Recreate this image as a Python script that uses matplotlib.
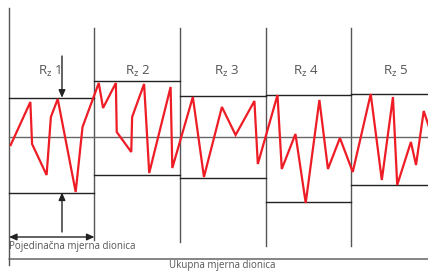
import numpy as np
import matplotlib.pyplot as plt

plt.rcParams['font.family'] = ['Open Sans', 'DejaVu Sans']

# x in units of one single measuring length, y = profile height (arbitrary units)
profile_x = [0.02, 0.25, 0.27, 0.44, 0.49, 0.57, 0.78, 0.86,
             1.05, 1.10, 1.25, 1.26, 1.43, 1.44, 1.58, 1.64, 1.89, 1.91,
             2.15, 2.28, 2.49, 2.65, 2.87, 2.91,
             3.14, 3.19, 3.35, 3.47, 3.63, 3.73, 3.87,
             4.02, 4.23, 4.36, 4.49, 4.54, 4.70, 4.76, 4.85, 4.92]
profile_y = [-0.8, 3.5, -0.7, -3.8, 2.0, 3.8, -5.5, 1.0,
             5.4, 2.9, 5.4, 0.5, -1.5, 2.0, 5.3, -3.6, 5.0, -3.1,
             4.0, -4.0, 3.0, 0.2, 3.6, -2.7,
             4.2, -3.2, 0.3, -6.6, 3.7, -3.2, -0.1,
             -3.5, 4.3, -4.3, 4.0, -4.8, -0.5, -2.8, 2.6, 0.8]

section_edges = [0, 1, 2, 3, 4, 4.95]
peak_levels = [3.93, 5.63, 4.07, 4.2, 4.33]
valley_levels = [-5.55, -3.77, -4.07, -6.5, -4.8]
divider_top = [12.9, 10.9, 10.9, 10.9, 10.9]
divider_bottom = [-12.8, -10.3, -10.5, -10.9, -10.9]
label_x = [0.47, 1.5, 2.55, 3.47, 4.52]
label_num = ['1', '2', '3', '4', '5']

grey = '#555555'
dark = '#222222'

fig = plt.figure(figsize=(4.28, 2.71), dpi=100)
ax = fig.add_axes([0, 0, 1, 1])
ax.set_xlim(-0.105, 4.9)
ax.set_ylim(-13.4, 13.7)
ax.axis('off')

# section dividers
for ii in range(5):
    ax.plot([section_edges[ii]] * 2, [divider_bottom[ii], divider_top[ii]],
            color=grey, lw=1.0)

# centre line
ax.plot([section_edges[0], section_edges[-1]], [0, 0], color='#666666', lw=1.0)

# highest peak / lowest valley in each section
for ii in range(5):
    xs = [section_edges[ii], section_edges[ii + 1]]
    ax.plot(xs, [peak_levels[ii]] * 2, color=dark, lw=1.0)
    ax.plot(xs, [valley_levels[ii]] * 2, color=dark, lw=1.0)
    ax.text(label_x[ii], 6.6, r'$\mathregular{R_z}$ ' + label_num[ii],
            ha='center', va='center', fontsize=9.5, color=grey)

# roughness profile
ax.plot(profile_x, profile_y, color='#ee1c25', lw=1.6, solid_joinstyle='miter')

# arrows for Rz1
arr = dict(arrowstyle='-|>,head_length=0.45,head_width=0.2', color=dark,
           lw=1.0, shrinkA=0, shrinkB=0)
ax.annotate('', xy=(0.62, peak_levels[0]), xytext=(0.62, 8.1), arrowprops=arr)
ax.annotate('', xy=(0.62, valley_levels[0]), xytext=(0.62, -9.5), arrowprops=arr)

# single and total measuring length
arr2 = dict(arrowstyle='<|-|>,head_length=0.45,head_width=0.2', color=dark,
            lw=1.0, shrinkA=0, shrinkB=0)
ax.annotate('', xy=(0, -10.0), xytext=(1, -10.0), arrowprops=arr2)
ax.text(0.0, -10.9, 'Pojedinačna mjerna dionica', ha='left', va='center',
        fontsize=7, color=grey)

arr3 = dict(arrowstyle='<|-,head_length=0.45,head_width=0.2', color=grey,
            lw=1.0, shrinkA=0, shrinkB=0)
ax.annotate('', xy=(0, -12.2), xytext=(5.1, -12.2), arrowprops=arr3)
ax.text(2.49, -13.36, 'Ukupna mjerna dionica', ha='center', va='bottom',
        fontsize=7, color=grey)

fig.savefig('out.png', dpi=100)
